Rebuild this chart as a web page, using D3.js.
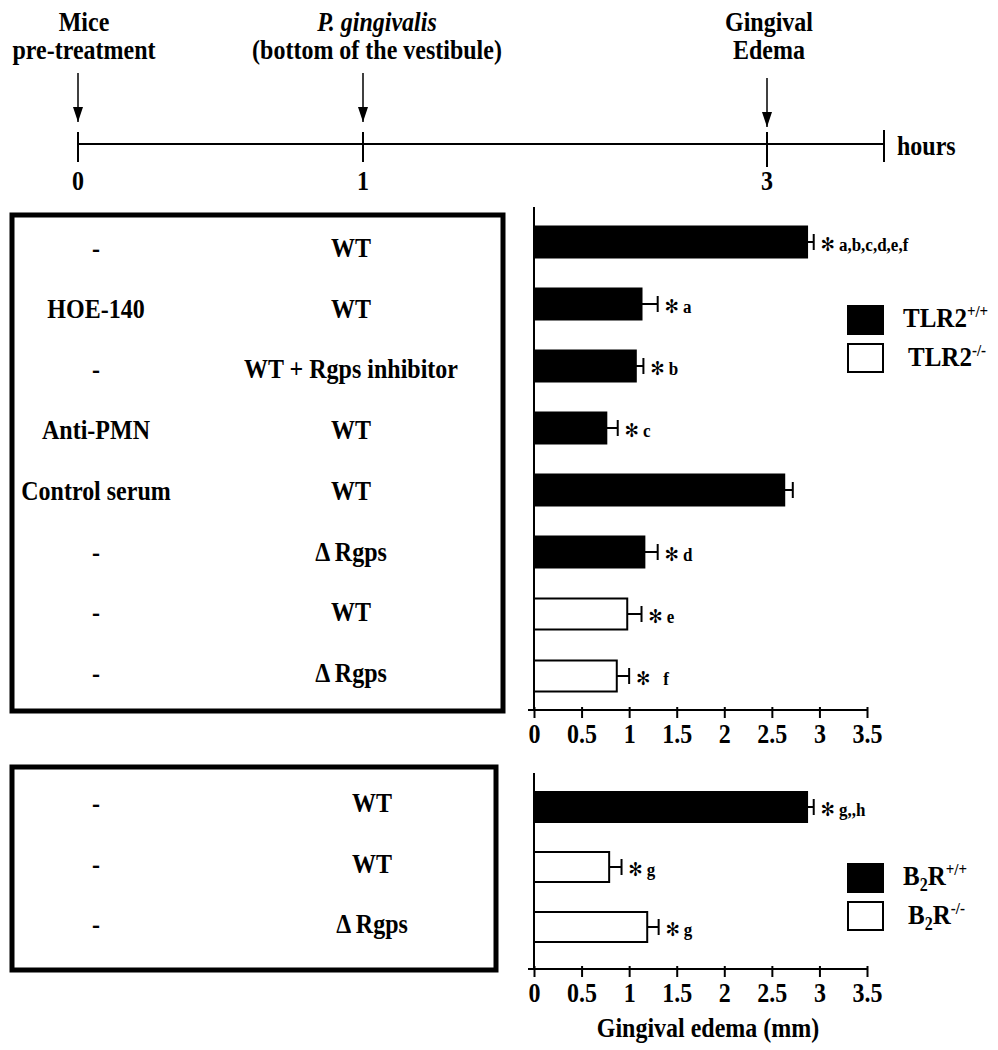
<!DOCTYPE html>
<html>
<head>
<meta charset="utf-8">
<script src="https://cdn.jsdelivr.net/npm/d3@7"></script>
<style>
  body { margin: 0; background: #fff; }
  svg text { font-family: "Liberation Serif", "Times New Roman", serif; font-weight: bold; fill: #000; }
</style>
</head>
<body>
<div id="chart"></div>
<script>
// timeline
var timeHours = [0, 1, 3];
var timeEvents = [["Mice", "pre-treatment"], ["P. gingivalis", "(bottom of the vestibule)"], ["Gingival", "Edema"]];

// TLR2 panel
var tlrPretreat = ["-", "HOE-140", "-", "Anti-PMN", "Control serum", "-", "-", "-"];
var tlrStrain = ["WT", "WT", "WT + Rgps inhibitor", "WT", "WT", "\u0394 Rgps", "WT", "\u0394 Rgps"];
var tlrGenotype = ["+/+", "+/+", "+/+", "+/+", "+/+", "+/+", "-/-", "-/-"];
var tlrEdema = [2.87, 1.13, 1.07, 0.76, 2.63, 1.16, 0.98, 0.87];
var tlrSem = [0.07, 0.17, 0.08, 0.12, 0.09, 0.14, 0.15, 0.13];
var tlrSig = ["a,b,c,d,e,f", "a", "b", "c", "", "d", "e", "f"];

// B2R panel
var b2Pretreat = ["-", "-", "-"];
var b2Strain = ["WT", "WT", "\u0394 Rgps"];
var b2Genotype = ["+/+", "-/-", "-/-"];
var b2Edema = [2.87, 0.79, 1.19];
var b2Sem = [0.07, 0.13, 0.12];
var b2Sig = ["g,,h", "g", "g"];

var xTicks = [0, 0.5, 1, 1.5, 2, 2.5, 3, 3.5];

var width = 998;
var height = 1050;

var svg = d3.select("#chart").append("svg")
  .attr("width", width)
  .attr("height", height);

// ---- timeline ----
var tScale = d3.scaleLinear().domain([0, 1, 3, 3.58]).range([78, 363, 767, 884]);

svg.append("defs").append("marker")
  .attr("id", "arrow")
  .attr("viewBox", "0 0 15 10")
  .attr("refX", 15).attr("refY", 5)
  .attr("markerWidth", 15).attr("markerHeight", 10)
  .attr("markerUnits", "userSpaceOnUse")
  .attr("orient", "auto")
  .append("path")
  .attr("d", "M0,0L15,5L0,10Z")
  .attr("fill", "#000");

var timeline = svg.append("g").attr("class", "timeline");

timeline.append("line")
  .attr("x1", tScale(0)).attr("x2", tScale(3.58))
  .attr("y1", 144).attr("y2", 144)
  .attr("stroke", "#000").attr("stroke-width", 2);

timeline.selectAll(".tick")
  .data(timeHours.concat([3.58]))
  .enter().append("line")
  .attr("x1", function(d){ return tScale(d); })
  .attr("x2", function(d){ return tScale(d); })
  .attr("y1", function(d){ return d === 3.58 ? 130 : 132; })
  .attr("y2", function(d){ return d === 3 ? 167 : 162; })
  .attr("stroke", "#000").attr("stroke-width", 2);

timeline.selectAll(".hourLabel")
  .data(timeHours)
  .enter().append("text")
  .attr("x", function(d){ return tScale(d); })
  .attr("y", 190)
  .attr("text-anchor", "middle")
  .attr("font-size", 24)
  .text(function(d){ return d; });

timeline.append("text")
  .attr("x", 897).attr("y", 155)
  .attr("font-size", 24)
  .text("hours");

timeline.selectAll(".arrow")
  .data(timeHours)
  .enter().append("line")
  .attr("x1", function(d){ return tScale(d); })
  .attr("x2", function(d){ return tScale(d); })
  .attr("y1", function(d){ return d === 3 ? 78 : 73; })
  .attr("y2", function(d){ return d === 3 ? 127 : 122; })
  .attr("stroke", "#000").attr("stroke-width", 1.5)
  .attr("marker-end", "url(#arrow)");

var evOffset = [6, 14, 2];
timeHours.forEach(function(h, i){
  timeline.append("text")
    .attr("x", tScale(h) + evOffset[i]).attr("y", 31)
    .attr("text-anchor", "middle")
    .attr("font-size", 24)
    .attr("font-style", i === 1 ? "italic" : null)
    .text(timeEvents[i][0]);
  timeline.append("text")
    .attr("x", tScale(h) + evOffset[i]).attr("y", 59)
    .attr("text-anchor", "middle")
    .attr("font-size", 24)
    .text(timeEvents[i][1]);
});

// ---- bar panels ----
var x = d3.scaleLinear().domain([0, 3.5]).range([534, 867]);

function drawPanel(opt) {
  var g = svg.append("g").attr("class", opt.name);
  var n = opt.edema.length;
  var y = d3.scaleBand()
    .domain(d3.range(n))
    .range(opt.bandRange)
    .paddingInner(0.5)
    .paddingOuter(0.25);
  var rowY = d3.scalePoint().domain(d3.range(n)).range(opt.rowRange);

  // box with treatments
  g.append("rect")
    .attr("x", 12).attr("y", opt.box[0])
    .attr("width", opt.box[2]).attr("height", opt.box[1] - opt.box[0])
    .attr("fill", "none").attr("stroke", "#000").attr("stroke-width", 5);

  g.selectAll(".pre").data(opt.pretreat).enter().append("text")
    .attr("x", 96)
    .attr("y", function(d, i){ return rowY(i); })
    .attr("text-anchor", "middle")
    .attr("font-size", 24)
    .text(function(d){ return d; });

  g.selectAll(".strain").data(opt.strain).enter().append("text")
    .attr("x", opt.strainX)
    .attr("y", function(d, i){ return rowY(i); })
    .attr("text-anchor", "middle")
    .attr("font-size", 24)
    .text(function(d){ return d; });

  // bars
  g.selectAll(".bar").data(opt.edema).enter().append("rect")
    .attr("x", x(0))
    .attr("y", function(d, i){ return y(i); })
    .attr("width", function(d){ return x(d) - x(0); })
    .attr("height", y.bandwidth())
    .attr("fill", function(d, i){ return opt.genotype[i] === "+/+" ? "#000" : "#fff"; })
    .attr("stroke", "#000").attr("stroke-width", 2);

  // error bars
  opt.edema.forEach(function(v, i){
    var cy = y(i) + y.bandwidth() / 2;
    var hi = x(v + opt.sem[i]);
    g.append("line")
      .attr("x1", x(v)).attr("x2", hi)
      .attr("y1", cy).attr("y2", cy)
      .attr("stroke", "#000").attr("stroke-width", 2);
    g.append("line")
      .attr("x1", hi).attr("x2", hi)
      .attr("y1", cy - 8).attr("y2", cy + 8)
      .attr("stroke", "#000").attr("stroke-width", 2);
    if (opt.sig[i]) {
      var t = g.append("text")
        .attr("x", hi + 7).attr("y", cy + 9);
      t.append("tspan")
        .attr("font-family", "DejaVu Sans")
        .attr("font-weight", "normal")
        .attr("font-size", 17)
        .attr("dy", 0)
        .text("\u273B");
      t.append("tspan")
        .attr("font-size", 17)
        .attr("dx", opt.sig[i] === "f" ? 13 : 4)
        .attr("dy", 0)
        .text(opt.sig[i]);
    }
  });

  // axes
  var yTop = opt.bandRange[0] - 4;
  g.append("line")
    .attr("x1", x(0)).attr("x2", x(0))
    .attr("y1", yTop).attr("y2", opt.axisY)
    .attr("stroke", "#000").attr("stroke-width", 2);

  var xAxis = d3.axisBottom(x).tickValues(xTicks).tickFormat(function(d){ return d; }).tickSize(8).tickPadding(14);
  var ax = g.append("g")
    .attr("transform", "translate(0," + opt.axisY + ")")
    .call(xAxis);
  ax.select(".domain").remove();
  ax.selectAll(".tick line").attr("y1", -3).attr("stroke-width", 2);
  ax.selectAll(".tick text")
    .attr("font-size", 24)
    .attr("font-family", "Liberation Serif")
    .attr("font-weight", "bold")
    .attr("dy", null)
    .attr("y", 33);
  g.append("line")
    .attr("x1", x(0) - 6).attr("x2", x(3.5))
    .attr("y1", opt.axisY).attr("y2", opt.axisY)
    .attr("stroke", "#000").attr("stroke-width", 2);

  // legend
  var leg = g.append("g").attr("transform", "translate(847," + opt.legendY + ")");
  ["+/+", "-/-"].forEach(function(k, i){
    leg.append("rect")
      .attr("x", i ? 1 : 0).attr("y", i ? 39 : 0)
      .attr("width", i ? 35 : 37).attr("height", i ? 28 : 30)
      .attr("fill", i ? "#fff" : "#000")
      .attr("stroke", "#000").attr("stroke-width", i ? 2 : 0);
    var t = leg.append("text")
      .attr("x", i ? 61 : 56).attr("y", i ? 61 : 22)
      .attr("font-size", 25);
    if (opt.name === "tlr") {
      t.append("tspan").text("TLR2");
    } else {
      t.append("tspan").text("B");
      t.append("tspan").attr("font-size", 16).attr("dy", 5).text("2");
      t.append("tspan").attr("dy", -5).text("R");
    }
    t.append("tspan").attr("font-size", 15).attr("dy", -9).text(k);
  });
}

drawPanel({
  name: "tlr",
  pretreat: tlrPretreat, strain: tlrStrain, genotype: tlrGenotype,
  edema: tlrEdema, sem: tlrSem, sig: tlrSig,
  bandRange: [211, 707], rowRange: [257, 682],
  box: [215, 711, 491], strainX: 351,
  axisY: 710, legendY: 305
});

drawPanel({
  name: "b2r",
  pretreat: b2Pretreat, strain: b2Strain, genotype: b2Genotype,
  edema: b2Edema, sem: b2Sem, sig: b2Sig,
  bandRange: [777, 957], rowRange: [812, 933],
  box: [767, 970, 484], strainX: 372,
  axisY: 969, legendY: 863
});

svg.append("text")
  .attr("x", 708).attr("y", 1037)
  .attr("text-anchor", "middle")
  .attr("font-size", 24)
  .text("Gingival edema (mm)");

// the scanned figure's lettering is a little taller than plain Times
svg.selectAll("text").each(function(){
  var s = d3.select(this);
  var tx = +s.attr("x") || 0;
  var ty = +s.attr("y") || 0;
  s.attr("x", 0).attr("y", 0)
    .attr("transform", "translate(" + tx + "," + ty + ") scale(1,1.12)");
});
</script>
</body>
</html>
